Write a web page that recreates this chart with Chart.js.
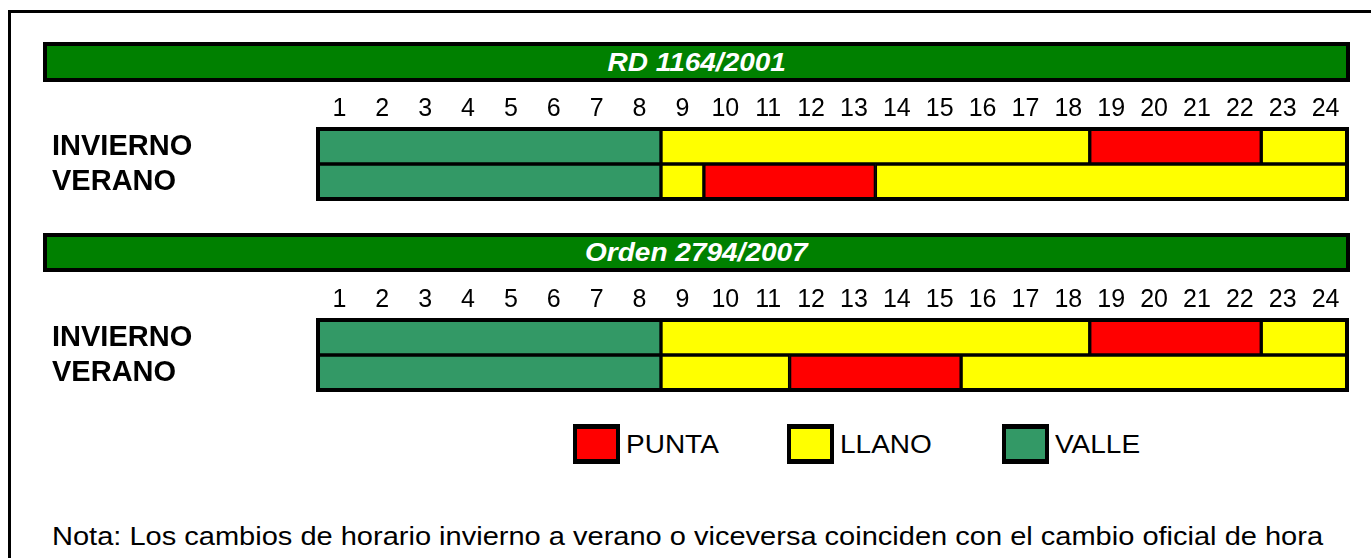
<!DOCTYPE html>
<html>
<head>
<meta charset="utf-8">
<script src="https://cdn.jsdelivr.net/npm/chart.js@4.4.0/dist/chart.umd.min.js"></script>
<style>
  body { margin: 0; width: 1371px; height: 558px; overflow: hidden; background: #fff; position: relative;
         font-family: 'Liberation Sans', Arial, sans-serif; }
  #frame { position: absolute; left: 8px; top: 10px; width: 1400px; height: 600px;
           border-left: 3px solid #000; border-top: 3px solid #000; }
  .head { position: absolute; left: 43px; width: 1307px; box-sizing: border-box; border: 4px solid #000;
          background: #008000; color: #fff; font: italic bold 25px 'Liberation Sans', Arial, sans-serif;
          display: flex; align-items: center; justify-content: center; }
  .head span { display: inline-block; transform: scaleX(1.12); }
  .chartbox { position: absolute; left: 43px; width: 1310px; height: 115px; }
  .item { position: absolute; top: 424px; display: flex; align-items: center; }
  .box { width: 47px; height: 40px; box-sizing: border-box; border: 5px solid #000; border-left-width: 4px; border-right-width: 4px; }
  .item span { display: inline-block; font-size: 25px; margin-left: 6px; transform: scaleX(1.12); transform-origin: left center; }
  #note { position: absolute; left: 52px; top: 522px; font-size: 25px; white-space: nowrap;
          transform-origin: left center; }
</style>
</head>
<body>
<div id="frame"></div>
<div class="head" style="top:42px;height:40px"><span>RD 1164/2001</span></div>
<div class="chartbox" style="top:88px"><canvas id="chartRd"></canvas></div>
<div class="head" style="top:233px;height:39px"><span>Orden 2794/2007</span></div>
<div class="chartbox" style="top:279px"><canvas id="chartOrden"></canvas></div>
<div id="legend"></div>
<div id="note">Nota: Los cambios de horario invierno a verano o viceversa coinciden con el cambio oficial de hora</div>

<script>
'use strict';

// tariff periods and colours
let tariffs = ['PUNTA', 'LLANO', 'VALLE'];
let tariffColors = ['#ff0000', '#ffff00', '#339966'];

// hour labels on top of each block
let hours = ['1', '2', '3', '4', '5', '6', '7', '8', '9', '10', '11', '12',
  '13', '14', '15', '16', '17', '18', '19', '20', '21', '22', '23', '24'];
let seasons = ['INVIERNO', 'VERANO'];

// [start hour, end hour, period]
let rdInvierno = [[0, 8, 'VALLE'], [8, 18, 'LLANO'], [18, 22, 'PUNTA'], [22, 24, 'LLANO']];
let rdVerano = [[0, 8, 'VALLE'], [8, 9, 'LLANO'], [9, 13, 'PUNTA'], [13, 24, 'LLANO']];
let ordenInvierno = [[0, 8, 'VALLE'], [8, 18, 'LLANO'], [18, 22, 'PUNTA'], [22, 24, 'LLANO']];
let ordenVerano = [[0, 8, 'VALLE'], [8, 11, 'LLANO'], [11, 15, 'PUNTA'], [15, 24, 'LLANO']];

// left edge of each legend item on the page
let legendLeft = [573, 787, 1002];

function colorOf(period) {
  return tariffColors[tariffs.indexOf(period)];
}

// one dataset per segment position, one bar per season row
function buildDatasets(rows) {
  let datasets = [];
  for (let i = 0; i < rows[0].length; i++) {
    datasets.push({
      data: rows.map(r => [r[i][0], r[i][1]]),
      backgroundColor: rows.map(r => colorOf(r[i][2])),
      borderColor: '#000',
      borderWidth: 2,
      borderSkipped: false,
      grouped: false,
      categoryPercentage: 1,
      barPercentage: 1
    });
  }
  return datasets;
}

// thick outline round the whole block
let outlinePlugin = {
  id: 'outline',
  afterDatasetsDraw(chart) {
    let a = chart.chartArea;
    let ctx = chart.ctx;
    ctx.save();
    ctx.strokeStyle = '#000';
    ctx.lineWidth = 4;
    ctx.strokeRect(a.left, a.top, a.right - a.left, a.bottom - a.top);
    ctx.restore();
  }
};

function noEdgePadding(scale) {
  scale.paddingTop = 0;
  scale.paddingBottom = 0;
  scale.paddingLeft = 0;
  scale.paddingRight = 0;
}

function makeChart(id, rows) {
  return new Chart(document.getElementById(id), {
    type: 'bar',
    data: { labels: seasons, datasets: buildDatasets(rows) },
    plugins: [outlinePlugin],
    options: {
      indexAxis: 'y',
      responsive: true,
      maintainAspectRatio: false,
      animation: false,
      layout: { padding: { left: 9, right: 6, top: 0, bottom: 4 } },
      plugins: { legend: { display: false }, tooltip: { enabled: false } },
      scales: {
        x: { type: 'linear', min: 0, max: 24, display: false },
        hours: {
          type: 'category', axis: 'x', position: 'top', labels: hours, offset: true,
          grid: { display: false, drawTicks: false }, border: { display: false },
          ticks: { color: '#000', padding: 5, maxRotation: 0, autoSkip: false,
            font: { family: 'Liberation Sans', size: 25 } },
          afterFit(scale) { scale.height = 41; noEdgePadding(scale); }
        },
        y: {
          grid: { display: false }, border: { display: false },
          ticks: { color: '#000', crossAlign: 'far', padding: 0, autoSkip: false,
            font: { family: 'Liberation Sans', size: 29, weight: 'bold' } },
          afterFit(scale) { scale.width = 266; noEdgePadding(scale); }
        }
      }
    }
  });
}

makeChart('chartRd', [rdInvierno, rdVerano]);
makeChart('chartOrden', [ordenInvierno, ordenVerano]);

// legend
let legend = document.getElementById('legend');
tariffs.forEach((t, i) => {
  let item = document.createElement('div');
  item.className = 'item';
  item.style.left = legendLeft[i] + 'px';
  item.innerHTML = '<div class="box" style="background:' + tariffColors[i] + '"></div><span>' + t + '</span>';
  legend.appendChild(item);
});

// stretch the note to the reference width
let note = document.getElementById('note');
note.style.transform = 'scaleX(' + (1271 / note.offsetWidth) + ')';
</script>
</body>
</html>
